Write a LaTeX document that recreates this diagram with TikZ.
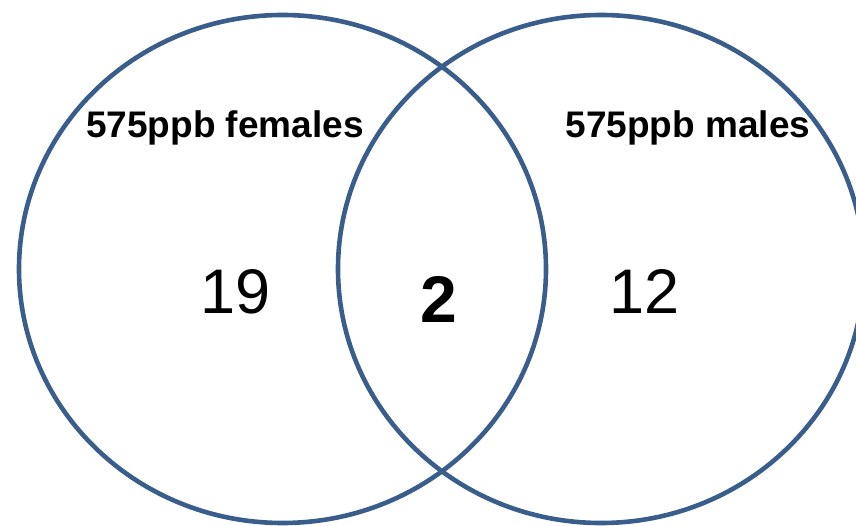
\documentclass[tikz,border=0pt]{standalone}
\usepackage{fontspec}
\setmainfont{Liberation Sans}
\usepackage{xcolor}
\definecolor{vennblue}{RGB}{58,94,140}

\begin{document}
\begin{tikzpicture}[x=1pt,y=-1pt,line cap=round,
  venn/.style={draw=vennblue,line width=4.6pt},
  setlabel/.style={anchor=base,font=\fontsize{37}{40}\selectfont\bfseries},
  count/.style={anchor=base,font=\fontsize{63}{70}\selectfont}]
\useasboundingbox (0,0) rectangle (856,526);
\coordinate (fem) at (282.5,269);
\coordinate (mal) at (601,269);
\draw[venn] (fem) ellipse [x radius=263.5,y radius=254];
\draw[venn] (mal) ellipse [x radius=263,y radius=254];
\node[setlabel] (femlabel) at (225,138) {575ppb females};
\node[setlabel] (mallabel) at (688,138) {575ppb males};
\node[count] (femonly) at (236,313) {19};
\node[count,font=\fontsize{66}{72}\selectfont\bfseries] (both) at (439,323) {2};
\node[count] (malonly) at (645,313) {12};
\end{tikzpicture}
\end{document}
